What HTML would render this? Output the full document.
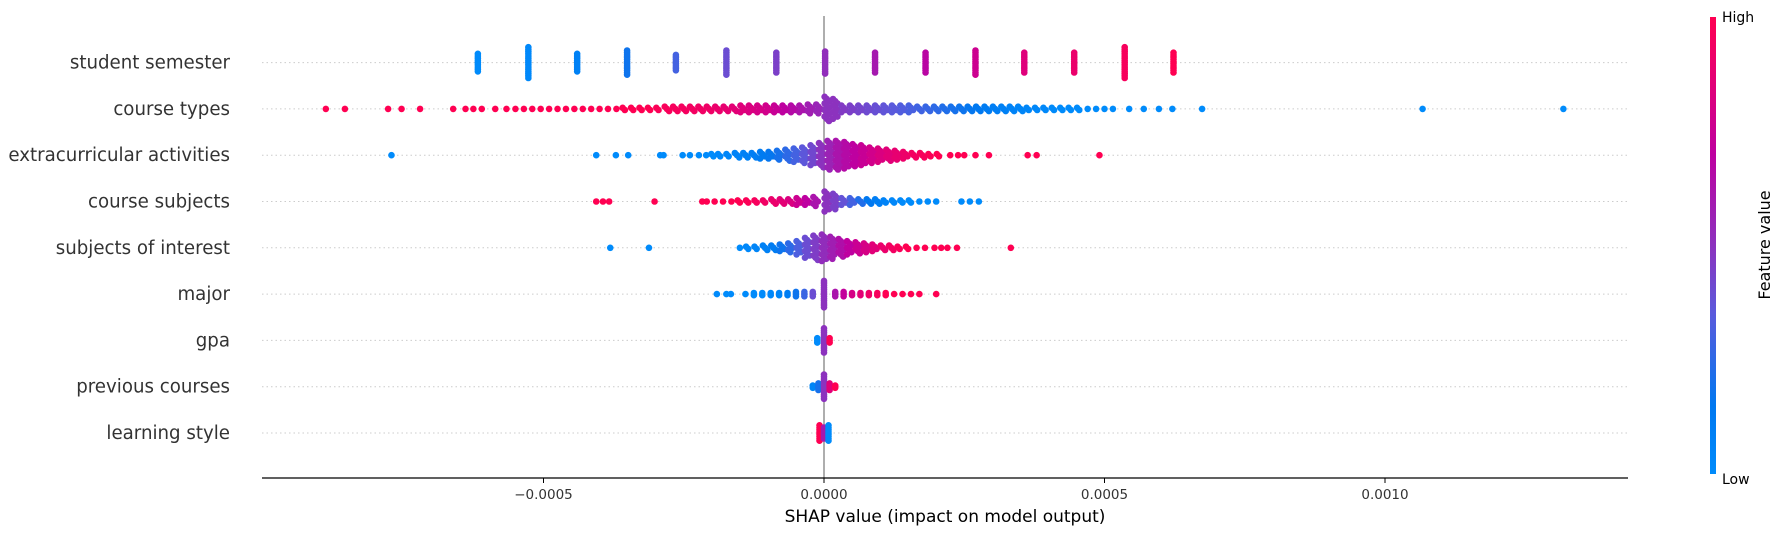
<!DOCTYPE html>
<html><head><meta charset="utf-8"><style>
html,body{margin:0;padding:0;background:#fff;}
svg{display:block;font-family:"DejaVu Sans","Liberation Sans",sans-serif;}
</style></head><body>
<svg id="chart" width="1785" height="536" viewBox="0 0 1785 536" xmlns="http://www.w3.org/2000/svg">
<defs><linearGradient id="cbgrad" x1="0" y1="1" x2="0" y2="0">
<stop offset="0" stop-color="#008bfb"/><stop offset="0.15" stop-color="#0078f0"/><stop offset="0.35" stop-color="#5a5adc"/><stop offset="0.5" stop-color="#8c32be"/><stop offset="0.7" stop-color="#be00a0"/><stop offset="0.85" stop-color="#e10078"/><stop offset="1" stop-color="#ff0052"/></linearGradient></defs>
<g id="grid"></g>
<line x1="824" y1="16" x2="824" y2="478" stroke="#999" stroke-width="1.6"/>
<g id="dots"></g>
<g id="labels"></g>
<line x1="262" y1="478" x2="1628" y2="478" stroke="#000" stroke-width="1.2"/>
<g id="ticks"></g>
<text x="945" y="522" font-size="17" text-anchor="middle" fill="#000">SHAP value (impact on model output)</text>
<rect x="1710" y="17" width="6" height="457" fill="url(#cbgrad)"/>
<text x="1722" y="22" font-size="14" fill="#000">High</text>
<text x="1722" y="484" font-size="14" fill="#000">Low</text>
<text x="0" y="0" font-size="16" text-anchor="middle" fill="#000" transform="translate(1770,245) rotate(-90)">Feature value</text>
</svg>
<script>
const features = ["student semester","course types","extracurricular activities","course subjects","subjects of interest","major","gpa","previous courses","learning style"];
const tickValues = [-5, 0, 5, 10];
const tickLabels = ["\u22120.0005","0.0000","0.0005","0.0010"];
// SHAP values in units of 1e-4, feature value 0..1, stack count
const x0=[-6.17,-5.27,-4.40,-3.51,-2.64,-1.74,-0.85,0.02,0.91,1.81,2.70,3.57,4.46,5.36,6.23];
const c0=[0,0.02,0.08,0.18,0.3,0.4,0.45,0.52,0.6,0.68,0.76,0.84,0.9,0.96,1];
const n0=[9,15,9,12,8,12,10,11,10,10,12,10,10,15,10];
const x1=[-8.88,-8.54,-7.77,-7.53,-7.2,-6.61,-6.39,-6.25,-6.1,-5.86,-5.66,-5.5,-5.35,-5.2,-5.05,-4.9,-4.75,-4.6,-4.45,-4.3,-4.15,-4.0,-3.85,-3.7,-3.55,-3.4,-3.25,-3.1,-2.95,-2.8,-2.65,-2.5,-2.35,-2.2,-2.05,-1.9,-1.75,-1.6,-1.45,-1.3,-1.15,-1.0,-0.85,-0.7,-0.55,-0.4,-0.25,-0.1,0.05,0.2,0.35,0.5,0.65,0.8,0.95,1.1,1.25,1.4,1.55,1.7,1.85,2.0,2.15,2.3,2.45,2.6,2.75,2.9,3.05,3.2,3.35,3.5,3.65,3.8,3.95,4.1,4.25,4.4,4.55,4.7,4.85,5.0,5.15,5.44,5.7,5.97,6.21,6.74,10.67,13.18];
const c1=[1,1,1,1,1,1,1,1,1,1,1,1,1,1,1,1,1,1,1,1,1,1,1,1,1,1,1,1,0.98,0.97,0.96,0.95,0.94,0.93,0.92,0.9,0.88,0.86,0.84,0.82,0.8,0.78,0.74,0.7,0.66,0.62,0.58,0.55,0.5,0.5,0.47,0.45,0.43,0.41,0.39,0.37,0.35,0.33,0.31,0.29,0.27,0.25,0.22,0.2,0.18,0.16,0.14,0.12,0.1,0.08,0.06,0.05,0.04,0.03,0.02,0.01,0,0,0,0,0,0,0,0,0,0,0,0,0,0];
const n1=[1,1,1,1,1,1,1,1,1,1,1,1,1,1,1,1,1,1,1,1,1,1,1,1,2,2,2,2,2,3,3,3,3,3,3,3,3,3,4,4,4,4,4,4,4,4,5,5,12,10,4,4,4,4,4,4,4,4,4,3,3,3,3,3,3,3,3,3,3,3,3,3,2,2,2,2,2,2,2,1,1,1,1,1,1,1,1,1,1,1];
const x2=[-7.71,-4.06,-3.71,-3.49,-2.92,-2.86,-2.52,-2.39,-2.23,-2.1,-1.97,-1.85,-1.7,-1.55,-1.4,-1.25,-1.1,-0.95,-0.8,-0.65,-0.5,-0.35,-0.2,-0.05,0.1,0.25,0.4,0.55,0.7,0.85,1.0,1.15,1.3,1.45,1.6,1.75,1.9,2.05,2.25,2.39,2.5,2.7,2.94,3.63,3.79,4.91];
const c2=[0,0,0,0,0,0,0,0,0,0,0,0.02,0.04,0.06,0.08,0.1,0.13,0.16,0.2,0.25,0.3,0.36,0.42,0.5,0.56,0.62,0.66,0.7,0.74,0.78,0.82,0.85,0.88,0.91,0.94,0.96,0.98,1,1,1,1,1,1,1,1,1];
const n2=[1,1,1,1,1,1,1,1,1,1,2,2,2,3,3,3,4,4,5,6,7,8,10,12,14,14,13,11,10,8,7,6,5,4,3,3,2,2,1,1,1,1,1,1,1,1];
const x3=[-4.06,-3.94,-3.83,-3.02,-2.17,-2.09,-1.95,-1.8,-1.65,-1.5,-1.35,-1.2,-1.05,-0.9,-0.75,-0.6,-0.45,-0.3,-0.15,0.05,0.2,0.35,0.5,0.65,0.8,0.95,1.1,1.25,1.4,1.55,1.7,1.85,2.0,2.45,2.6,2.76];
const c3=[1,1,1,1,1,1,1,1,1,1,0.98,0.96,0.93,0.9,0.86,0.82,0.76,0.7,0.62,0.5,0.45,0.38,0.3,0.22,0.15,0.1,0.06,0.03,0.01,0,0,0,0,0,0,0];
const n3=[1,1,1,1,1,1,1,1,1,2,2,2,2,3,3,3,4,4,5,10,8,4,4,3,3,3,2,2,2,2,1,1,1,1,1,1];
const x4=[-3.81,-3.12,-1.5,-1.35,-1.2,-1.05,-0.9,-0.75,-0.6,-0.45,-0.3,-0.15,0.0,0.15,0.3,0.45,0.6,0.75,0.9,1.05,1.2,1.35,1.5,1.65,1.8,1.97,2.09,2.2,2.37,3.33];
const c4=[0,0,0,0.02,0.05,0.08,0.12,0.18,0.25,0.32,0.4,0.46,0.52,0.58,0.64,0.7,0.75,0.8,0.85,0.9,0.94,0.97,1,1,1,1,1,1,1,1];
const n4=[1,1,1,2,2,3,3,4,5,7,10,12,13,11,9,7,6,5,4,3,3,2,2,1,1,1,1,1,1,1];
const x5=[-1.91,-1.74,-1.66,-1.4,-1.25,-1.1,-0.95,-0.8,-0.65,-0.5,-0.35,-0.2,0.0,0.2,0.35,0.5,0.65,0.8,0.95,1.1,1.25,1.4,1.55,1.7,2.0];
const c5=[0,0,0,0,0,0,0.02,0.05,0.1,0.18,0.28,0.4,0.5,0.62,0.72,0.8,0.86,0.92,0.96,1,1,1,1,1,1];
const n5=[1,1,1,1,2,2,2,2,2,3,3,3,13,3,3,2,2,2,2,2,1,1,1,1,1];
const x6=[-0.12,0.0,0.1];
const c6=[0,0.5,1];
const n6=[3,12,3];
const x7=[-0.2,-0.1,0.0,0.1,0.2];
const c7=[0.05,0.2,0.5,0.85,1];
const n7=[2,4,12,4,2];
const x8=[-0.08,0.0,0.08];
const c8=[1,0.6,0];
const n8=[8,6,8];

const rowsX=[x0,x1,x2,x3,x4,x5,x6,x7,x8];
const rowsC=[c0,c1,c2,c3,c4,c5,c6,c7,c8];
const rowsN=[n0,n1,n2,n3,n4,n5,n6,n7,n8];

const NS="http://www.w3.org/2000/svg";
function xScale(u){return 824+u*56.1;}
function yRow(i){return 62.6+i*46.3;}
const stops=[[0,[0,139,251]],[0.15,[0,120,240]],[0.35,[90,90,220]],[0.5,[140,50,190]],[0.7,[190,0,160]],[0.85,[225,0,120]],[1,[255,0,82]]];
function cmap(v){v=Math.max(0,Math.min(1,v));for(let k=1;k<stops.length;k++){if(v<=stops[k][0]){const a=stops[k-1],b=stops[k];const t=(v-a[0])/(b[0]-a[0]);const c=a[1].map((q,j)=>Math.round(q+(b[1][j]-q)*t));return `rgb(${c[0]},${c[1]},${c[2]})`;}}return "rgb(255,0,82)";}
function mk(tag,attrs,parent){const e=document.createElementNS(NS,tag);for(const k in attrs)e.setAttribute(k,attrs[k]);parent.appendChild(e);return e;}

const grid=document.getElementById('grid'),dots=document.getElementById('dots'),labels=document.getElementById('labels'),ticks=document.getElementById('ticks');
features.forEach((f,i)=>{
  const y=yRow(i);
  const gl=mk('line',{x1:262,y1:y,x2:1628,y2:y,stroke:'#ccc','stroke-width':1,'stroke-dasharray':'1.5,3'},grid);
  
  
  const t=mk('text',{x:230,y:y+6,'font-size':18.2,'text-anchor':'end',fill:'#333'},labels);
  t.textContent=f;
  
  
  const xs=rowsX[i],cs=rowsC[i],ns=rowsN[i];
  const g=mk('g',{},dots);
  
  
  const jitter = (i>=1 && i<=4) ? 1 : 0;
  for(let k=0;k<xs.length;k++){
    const n=ns[k],px=xScale(xs[k]),col=cmap(cs[k]);
    const wide = (n>1 && jitter) ? 2.2 : 0;
    for(let j=0;j<n;j++){
      const dy=(j-(n-1)/2)*2.2;
      const dx=((j%3)-1)*wide;
      const c=mk('circle',{cx:px+dx,cy:y+dy,r:3.3,fill:col},g);
      
      
    }
  }
});
tickValues.forEach((v,i)=>{
  const x=xScale(v);
  const tl=mk('line',{x1:x,y1:478,x2:x,y2:483,stroke:'#000','stroke-width':1},ticks);
  
  
  const tt=mk('text',{x:x,y:499,'font-size':13.5,'text-anchor':'middle',fill:'#333'},ticks);
  tt.textContent=tickLabels[i];
  
  
});
</script>
</body></html>
